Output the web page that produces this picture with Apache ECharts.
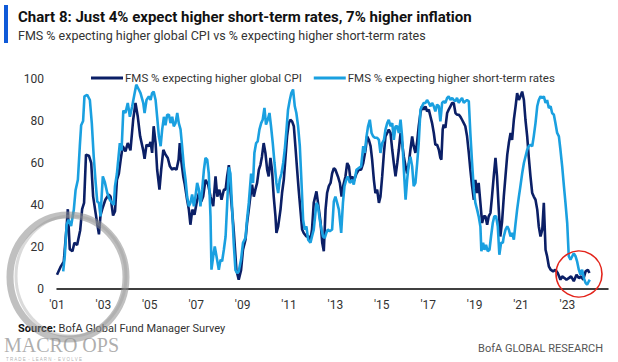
<!DOCTYPE html>
<html><head><meta charset="utf-8">
<script src="https://cdn.jsdelivr.net/npm/echarts@6/dist/echarts.min.js"></script>
<style>html,body{margin:0;padding:0;background:#fff}#c{width:618px;height:362px}</style>
</head><body><div id="c"></div>
<script>
// x values: months since Jan 2001
const cpiMonths = [0,2,3.5,5,5.6,6.6,8,9,10.4,12,13,14,15,16.5,17.7,18.7,20,21,21.7,22.5,23.4,25,26.8,27.7,29,30,31,32,33,34,35.4,36.6,38,39.4,40.6,41.8,43,44.6,45.3,46.3,47.5,48.4,49.2,50,51,51.8,53,53.9,55,56.1,57.3,58.4,59.6,60.4,61.8,62.9,63.5,64.2,65.3,66.1,67.3,68.2,69,70,71.1,72.2,73.4,74.6,75.6,76.8,78.2,79.4,80.8,82,82.9,84,85.1,86.3,87.2,88,88.9,89.7,91.4,92.8,94,95.2,96.2,97.5,98.3,99.2,100,100.9,101.8,102.6,103.5,104.4,105.2,106,106.9,107.8,108.7,109.5,110.4,111.2,112.1,113,113.5,114.4,115.6,116.4,117.3,118.1,119,119.9,120.7,121.6,122.5,123.3,124.2,125,125.9,126.8,127.6,129,130.2,131.1,131.9,132.8,134.2,135,136.3,137.2,138,138.9,139.7,140.6,141.5,142.3,143.2,144,145.3,146.3,147.2,148,149.2,150.1,151,151.8,152.7,153.5,154.9,156.1,157.3,158.4,159.6,160.4,161.3,162.2,163,163.9,164.7,165.6,166.5,167.3,168.2,169.1,169.9,170.8,171.6,172.5,173.4,174.2,175.1,176,176.8,177.7,178.5,179.4,180.3,181.1,182,182.8,183.7,184.5,185.4,186.3,187.1,188,188.8,189.7,190.6,191.4,192.3,193.2,194,194.9,195.7,196.6,197.5,198.3,198.8,199.5,200,200.9,201.8,202.6,203.5,204.4,205.2,206.1,206.9,207.8,208.7,209.5,210.4,211.2,212.1,213,213.8,214.7,215.6,216.4,217.3,218.1,219,219.9,220.7,221.6,222.5,223.3,224.2,225,225.9,226.8,227.6,228.5,229.3,230.2,231.1,232,232.9,233.7,234.6,235.4,236.3,237.2,238,238.9,239.7,240.6,241.5,242.3,243.2,244,244.9,245.8,246.6,247.5,248.4,249.2,250.1,251,251.8,252.7,253.5,254.4,255.3,256.6,257.8,259,260.4,261.3,262.5,263.5,264.7,265.9,267.3,268.7,269.9,271.1,272.2,273.4,274.6,275.4];
const cpiValues = [6.8,10.8,13,30,38,19,18,22,21,28,38,41,64,63.5,60,44,36,30,26,35,38,42.5,45,44,35,37,52,55,62,68,65.5,69.5,66,80.6,88.6,82,72.7,66,62,68.7,68,70,64.8,77.5,69.5,56.8,47.3,56.8,66.3,64,62.4,58.4,56.8,57.6,56.8,61.6,69.5,61.6,53.6,49.7,42.5,37.8,30.6,37.8,35.4,41,45.7,41.7,44,52,49.7,44,39.4,53.6,44,47.3,42.5,47.3,47.3,53.6,59,47,28,9,4.4,9,18.7,23.5,31.4,37.8,44,49.7,44,47.3,50.5,56.8,59,63,69.5,64.8,56.8,53.6,62.4,56.8,44,34.6,26.7,29.8,37.8,45.7,52,61.6,72.7,79,80.6,79.8,77.5,68,56.8,47.3,37.8,28.3,26.7,25,25,23.5,28.3,41,46.5,41,32,22,18,37.8,45.7,49,50.5,55,57.6,56.8,53.6,50.5,44,49,53.6,60,58.4,52,53.6,51.3,55,56.8,56.8,60,66.3,72.7,71,68,61.6,52,45.7,47.3,41,44,53.6,64.8,72.7,74.3,75.9,74.3,66.3,60,53.6,60,66.3,74.3,69.5,63,58.4,55,60,66.3,72.7,68,64.8,70.3,77.5,83.8,87,85.4,87,84.6,85.4,82,79,74.3,68.7,68.7,66.3,62.4,61.6,75.9,78.3,76.7,83.8,85.4,87,88.6,88.6,83.8,83,83,82,80.6,79,77.5,72.7,64.8,56.8,49,42.5,52,45.7,50.5,41,31.4,34.6,34.6,30.6,34.6,36.2,44,53.6,62.4,53.6,37.8,25,32,44,54,64,69.5,74.3,71,80.6,87,93.3,90,91.7,94,90,80.6,72.7,63,53.6,45.7,44,42.5,37.8,29.8,25,28.3,41,18.7,15.6,10.8,9.2,8.4,9.2,7.6,4.4,6,5.2,4.4,5.2,6,3.7,6.8,5.2,6,4.4,8.4,9.2,7.6];
const rateMonths = [3.2,4,5,6,7.3,8.7,9.6,10.8,11.8,12.5,13.5,14.2,15.6,17,18,19,20,20.8,21.7,22.5,23.7,24.7,26,27.3,28.5,29.4,30,31,32.5,33.4,34.3,35.4,36.6,37.7,38.9,40,41,42.3,43.2,44.6,45.3,46.3,47.5,48.4,49.2,50,51,51.8,52.7,53.6,54.4,55.3,56.1,57,57.9,58.7,59.6,60.4,61.3,62.2,63,63.9,64.7,65.6,66.5,67.3,68.2,69,69.9,70.8,71.6,72.5,73.4,74.2,75.1,76,76.8,77.7,78.5,79.4,79.9,80.8,81.6,82.5,83.7,84.6,85.4,86.3,87.2,88,88.9,89.7,90.5,91.4,92.3,93.2,94,95.2,96.2,97.5,98.3,99.2,100.4,101.4,102.1,103,103.8,104.7,105.6,106.4,107.3,108.1,109,109.9,110.7,111.6,112.5,113.5,114.4,115.2,116.1,117,117.8,118.7,119.5,120.4,121.2,122.1,123,123.8,124.7,125.6,126.4,127.3,128.1,129,129.9,131.1,131.9,132.8,134.2,135,135.9,136.8,137.6,138.5,139.3,140.1,141.1,142.3,143.2,144,144.9,145.8,147,147.9,148.7,149.6,150.4,151.5,152.7,153.5,154.9,156.1,157.3,158.4,159.2,160.1,160.9,161.8,162.7,163.5,164.4,165.6,166.5,167.3,168.2,169.1,169.9,170.8,171.6,172.5,173.4,174.2,175.1,176,176.8,177.7,178.5,179.4,180.3,181.1,182,182.8,183.7,184.5,185.4,186.3,187.1,188,188.8,189.7,190.6,191.4,192.3,193.2,194,194.9,195.7,196.6,197.5,198.3,199.2,200,200.9,201.8,202.6,203.5,204.4,205.2,206.1,206.9,207.8,208.7,209.5,210.4,211.2,212.1,213,213.8,214.7,215.6,216.4,217.3,218.1,219,219.5,220.4,221.1,221.9,222.8,223.7,224.5,225.4,226.2,227.1,228,228.8,229.7,230.6,231.1,232,232.9,233.7,234.6,235.4,236.3,237.2,238,238.9,239.7,240.6,241.5,242.3,243.2,244,244.9,245.8,246.6,247.5,248.4,249.2,250.1,251,251.8,252.7,253.5,254.4,255.3,256.1,257,257.8,258.7,259.6,260.4,261.3,262.2,263,263.9,264.7,265.6,266.5,267.3,268.2,269,269.9,270.8,271.6,272.5,273.4,274.2,275.1,275.6];
const rateValues = [8.4,15.5,30.6,33,30,37.8,47,52,68,78,80,91.7,92.5,90,79,63,50.5,41.7,41,34.6,53.6,51,45.7,42.5,41,40,49,55,69.5,66,85,83.8,88.6,82,87,92.5,97.3,95,93.3,88.6,83.8,90,91.7,90,93.3,94,90,82,72.7,68,75.9,82,78,83,83,79,82,77.5,79,83.8,79,76,68,58.4,52,44,39.4,41,45,39.4,44,50.5,47.3,39.4,47.3,56.8,62.4,61.6,55,34.6,9.2,15.6,20.3,15.6,9.2,14,13.2,18.7,25,40,58,55,40,22,9,7.6,8.4,14,22,24.3,33,41,55,50.5,64.8,69.5,70.3,75.9,79,80.6,86.2,78.3,80.6,83.8,77.5,69.5,60,50.5,45.7,52,55,60,66.3,75.9,85.4,90,93.3,95,87,83.8,77.5,68,52,33,28.3,29.8,23.5,22,25,28.3,41,39.4,33,28.3,25,24.3,26.7,28.3,27.5,28.3,41.7,44,41,37.8,26.7,41,49,52,53.6,50.5,52,49.7,56.8,57.6,58.4,68,64.8,72.7,77.5,80.6,74.3,72.7,72,72,71,64.8,69.5,71,75.9,79,80.6,77.5,79,71,77.5,77.5,74.3,80.6,72.7,56.8,42.5,52,60,63,58.4,49,50.5,60,69.5,85.4,87,88.6,88.6,90,88.6,87,88.6,87,84.6,87.8,87,79.8,88.6,89.4,88.6,91,91.7,90,91,90,89.4,91,88.6,90,91,88.6,89.4,90,89.4,74.3,60,47.3,41,37.8,34.6,29.8,18,22,18.7,21,18,18.7,25,31.4,34.6,34.6,29.8,16.3,22,22,25,28.3,29.8,28.3,25,26.7,23.5,31.4,37.8,44,49,55,60,63,66.3,68,68.7,68,72.7,79,87,90,91.7,91,91.7,88.6,90,86.2,87,83.8,83,79,74.3,72.7,66.3,58.4,49,41,31.4,15.6,14,15.6,17,15.6,13.2,9.2,6.8,9.2,5.2,2.9,2.1,3.7,4.4];
const yTicks = [0,20,40,60,80,100];
const xTickYears = ["'01","'03","'05","'07","'09","'11","'13","'15","'17","'19","'21","'23"];
const seriesNames = ['FMS % expecting higher global CPI','FMS % expecting higher short-term rates'];

const pair = (xs, ys) => xs.map((x, i) => [x, ys[i]]);
const FONT = '"Roboto","Liberation Sans",sans-serif';
const chart = echarts.init(document.getElementById('c'), null, {renderer: 'svg'});
chart.setOption({
  backgroundColor: '#fff',
  animation: false,
  grid: {left: 57, right: 10, top: 79, bottom: 73},
  legend: {
    left: 86, top: 67, itemWidth: 32, itemHeight: 3, itemGap: 12, icon: 'rect',
    textStyle: {fontSize: 11.5, color: '#333', fontFamily: FONT, padding: [0,0,0,-3]},
    data: seriesNames
  },
  xAxis: {
    type: 'value', min: 0, max: 285, interval: 24,
    axisLine: {lineStyle: {color: '#000', width: 1.5}},
    axisTick: {show: false}, splitLine: {show: false},
    axisLabel: {margin: 10, fontSize: 12, color: '#333', fontFamily: FONT,
      formatter: v => (v % 24 === 0 ? xTickYears[v / 24] || '' : '')}
  },
  yAxis: {
    type: 'value', min: yTicks[0], max: yTicks[yTicks.length-1], interval: 20,
    axisLine: {show: false}, axisTick: {show: false}, splitLine: {show: false},
    axisLabel: {margin: 13, fontSize: 12, color: '#333', fontFamily: FONT}
  },
  series: [
    {name: seriesNames[0], type: 'line', data: pair(cpiMonths, cpiValues), showSymbol: false,
     lineStyle: {color: '#0b1f66', width: 2.6}, itemStyle: {color: '#0b1f66'}},
    {name: seriesNames[1], type: 'line', data: pair(rateMonths, rateValues), showSymbol: false,
     lineStyle: {color: '#1aa0e0', width: 2.6}, itemStyle: {color: '#1aa0e0'}}
  ],
  graphic: [
    {type: 'rect', shape: {x: 4, y: 5, width: 4, height: 38}, style: {fill: '#0f5ad8'}},
    {type: 'text', x: 18, y: 17, style: {text: 'Chart 8: Just 4% expect higher short-term rates, 7% higher inflation',
      font: 'bold 15px ' + FONT, fill: '#111', textVerticalAlign: 'middle'}},
    {type: 'text', x: 18, y: 35, style: {text: 'FMS % expecting higher global CPI vs % expecting higher short-term rates',
      font: '12.5px ' + FONT, fill: '#333', textVerticalAlign: 'middle'}},
    {type: 'text', x: 18, y: 328, style: {rich: {b: {fontWeight: 'bold', fontSize: 11, fontFamily: FONT, fill: '#111'}, n: {fontSize: 11, fontFamily: FONT, fill: '#333'}},
      text: '{b|Source:}{n| BofA Global Fund Manager Survey}', textVerticalAlign: 'middle'}},
    {type: 'text', x: 603, y: 348, style: {text: 'BofA GLOBAL RESEARCH', font: '11px ' + FONT, fill: '#555', textAlign: 'right', textVerticalAlign: 'middle'}},
    {type: 'text', x: 4, y: 345, z: 20, style: {text: 'MACRO OPS', font: '20px "Liberation Serif","DejaVu Serif",serif', fill: 'rgba(120,120,120,0.6)', textVerticalAlign: 'middle'}},
    {type: 'text', x: 6, y: 359, z: 20, style: {text: 'T R A D E  -  L E A R N  -  E V O L V E', font: '4.5px "Liberation Sans",sans-serif', fill: 'rgba(120,120,120,0.6)', textVerticalAlign: 'middle'}},
    {type: 'ellipse', shape: {cx: 68, cy: 277, rx: 58, ry: 62}, z: 20, style: {fill: 'none', stroke: 'rgba(140,140,140,0.55)', lineWidth: 7}},
    {type: 'ellipse', shape: {cx: 71, cy: 276, rx: 55, ry: 60}, z: 20, style: {fill: 'none', stroke: 'rgba(150,150,150,0.35)', lineWidth: 3}},
    {type: 'circle', shape: {cx: 579, cy: 274, r: 23}, z: 20, style: {fill: 'none', stroke: '#e3241b', lineWidth: 1.6}}
  ]
});
</script></body></html>
